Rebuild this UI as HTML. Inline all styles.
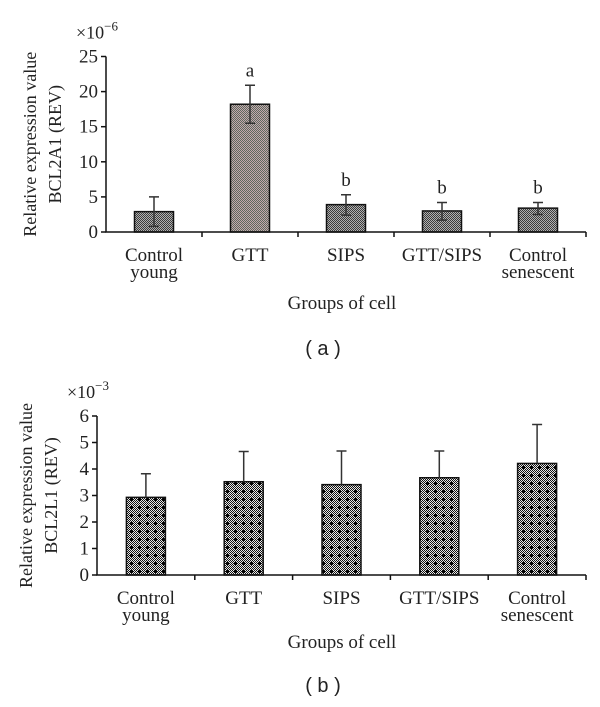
<!DOCTYPE html>
<html><head><meta charset="utf-8"><style>
body{margin:0;background:#fff;}
svg text{font-family:"Liberation Serif",serif;fill:#222;}
</style></head><body>
<svg id="s" width="600" height="702" viewBox="0 0 600 702">
<defs>
<pattern id="pa" width="2" height="2" patternUnits="userSpaceOnUse"><rect width="2" height="2" fill="#b0b0b0"/><rect width="1" height="1" fill="#3c3c3c"/><rect x="1" y="1" width="1" height="1" fill="#3c3c3c"/></pattern>
<pattern id="pg" width="2" height="2" patternUnits="userSpaceOnUse"><rect width="2" height="2" fill="#c4a8ae"/><rect width="1" height="1" fill="#5e6a5e"/><rect x="1" y="1" width="1" height="1" fill="#5e6a5e"/></pattern>
<pattern id="pb" width="8" height="8" patternUnits="userSpaceOnUse"><rect width="8" height="8" fill="#e8e8e8"/><path d="M0 0h1v1H0zM2 0h1v1H2zM4 0h1v1H4zM6 0h1v1H6zM1 1h1v1H1zM3 1h1v1H3zM5 1h1v1H5zM7 1h1v1H7zM0 2h1v1H0zM2 2h1v1H2zM4 2h1v1H4zM6 2h1v1H6zM1 3h1v1H1zM3 3h1v1H3zM5 3h1v1H5zM7 3h1v1H7zM0 4h1v1H0zM2 4h1v1H2zM4 4h1v1H4zM6 4h1v1H6zM1 5h1v1H1zM3 5h1v1H3zM5 5h1v1H5zM7 5h1v1H7zM0 6h1v1H0zM2 6h1v1H2zM4 6h1v1H4zM6 6h1v1H6zM1 7h1v1H1zM3 7h1v1H3zM5 7h1v1H5zM7 7h1v1H7z" fill="#111"/><path d="M3 2h1v3H3zM2 3h3v1H2z" fill="#000"/></pattern>
</defs>
</svg>
<script>
const categories=["Control|young","GTT","SIPS","GTT/SIPS","Control|senescent"];
const valuesA=[2.9,18.2,3.9,3.0,3.4];
const errHiA=[5.0,20.9,5.3,4.2,4.2];
const errLoA=[0.8,15.5,2.4,1.7,2.5];
const lettersA=["","a","b","b","b"];
const ticksA=[0,5,10,15,20,25];
const valuesB=[2.93,3.52,3.41,3.67,4.21];
const errHiB=[3.82,4.66,4.68,4.68,5.68];
const ticksB=[0,1,2,3,4,5,6];
const svg=document.getElementById('s');
const NS="http://www.w3.org/2000/svg";
function mk(t,a,p){const e=document.createElementNS(NS,t);for(const k in a)e.setAttribute(k,a[k]);(p||svg).appendChild(e);return e;}
function chart(o){
  const g=mk('g',{});
  
  
  const y=v=>o.y0-(v-o.min)/(o.max-o.min)*(o.y0-o.yTop);
  const n=categories.length,cw=(o.xR-o.x0)/n;
  const xc=i=>o.x0+cw*(i+0.5);
  o.vals.forEach((v,i)=>{
    const b=mk('rect',{x:xc(i)-19.5,y:y(v),width:39,height:o.y0-y(v),fill:o.fills[i],stroke:'#111','stroke-width':1.5},g);
    
    
    const lo=o.lo?o.lo[i]:v;
    const e=mk('path',{d:`M${xc(i)} ${y(lo)}V${y(o.hi[i])}M${xc(i)-5} ${y(o.hi[i])}h10`+(o.lo?`M${xc(i)-5} ${y(lo)}h10`:''),stroke:'#333','stroke-width':1.5,fill:'none'},g);
    
    
    if(o.letters&&o.letters[i]){const t=mk('text',{x:xc(i),y:y(o.hi[i])-9,'text-anchor':'middle','font-size':19},g);t.textContent=o.letters[i];
      
      }
    const parts=categories[i].split('|');
    parts.forEach((p,j)=>{const t=mk('text',{x:xc(i),y:o.y0+29+j*17,'text-anchor':'middle','font-size':19},g);t.textContent=p;
      
      });
  });
  mk('path',{d:`M${o.x0} ${o.yTop}V${o.y0}H${o.xR}`,stroke:'#111','stroke-width':1.5,fill:'none'},g);
  for(let i=1;i<=n;i++)mk('path',{d:`M${o.x0+cw*i} ${o.y0}v5`,stroke:'#111','stroke-width':1.5},g);
  o.ticks.forEach(t=>{mk('path',{d:`M${o.x0-5} ${y(t)}h5`,stroke:'#111','stroke-width':1.5},g);
    const l=mk('text',{x:o.x0-8,y:y(t)+6,'text-anchor':'end','font-size':19},g);l.textContent=t;
    
    });
  const m=mk('text',{x:o.x0-30,y:o.yTop-18,'font-size':18},g);m.innerHTML='×10<tspan dy="-8" font-size="13">−'+o.exp+'</tspan>';
  
  
  const cy=(o.yTop+o.y0)/2;
  [['Relative expression value',o.tx1],[o.gene,o.tx2]].forEach(([s,x])=>{const t=mk('text',{x:x,y:cy,'text-anchor':'middle','font-size':18,transform:`rotate(-90 ${x} ${cy})`},g);t.textContent=s;
    
    });
  const xt=mk('text',{x:342,y:o.xtY,'text-anchor':'middle','font-size':19},g);xt.textContent='Groups of cell';
  
  
  const pl=mk('text',{x:323,y:o.plY,'text-anchor':'middle','font-size':20,style:'font-family:"Liberation Sans",sans-serif'},g);pl.textContent='( '+o.panel+' )';
  
  
}
chart({name:'chart-a-bcl2a1',x0:106,xR:586,y0:232,yTop:56.5,min:0,max:25,vals:valuesA,hi:errHiA,lo:errLoA,letters:lettersA,ticks:ticksA,exp:6,
  fills:['url(#pa)','url(#pg)','url(#pa)','url(#pa)','url(#pa)'],gene:'BCL2A1 (REV)',tx1:36,tx2:61,xtY:309,plY:355,panel:'a'});
chart({name:'chart-b-bcl2l1',x0:97,xR:586,y0:575,yTop:416,min:0,max:6,vals:valuesB,hi:errHiB,lo:null,letters:null,ticks:ticksB,exp:3,
  fills:Array(5).fill('url(#pb)'),gene:'BCL2L1 (REV)',tx1:32,tx2:57,xtY:648,plY:692,panel:'b'});
</script>
</body></html>
